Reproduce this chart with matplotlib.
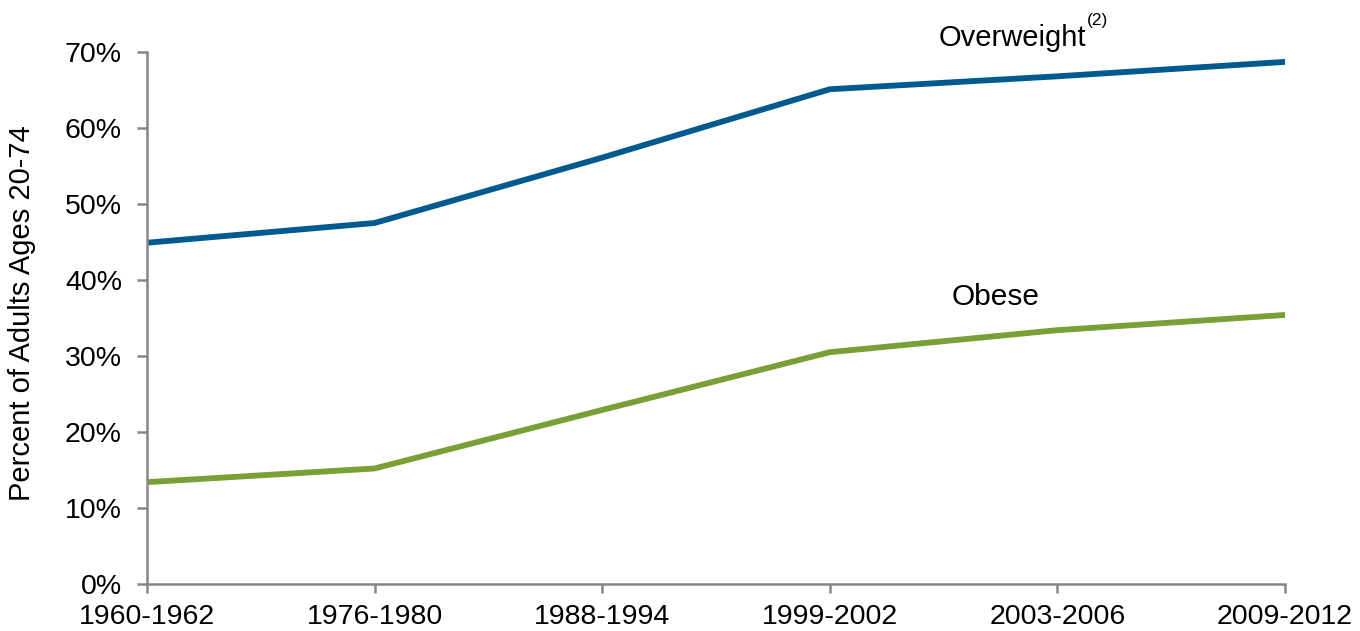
import matplotlib
matplotlib.use("Agg")
import matplotlib.pyplot as plt

periods = ["1960-1962", "1976-1980", "1988-1994", "1999-2002", "2003-2006", "2009-2012"]
overweight = [44.9, 47.5, 56.1, 65.1, 66.8, 68.7]
obese = [13.4, 15.2, 22.9, 30.5, 33.4, 35.4]
yticks = [0, 10, 20, 30, 40, 50, 60, 70]
ytick_labels = [f"{v}%" for v in yticks]

plt.rcParams['font.family'] = ['Liberation Sans', 'DejaVu Sans']

fig = plt.figure(figsize=(13.6, 6.31), dpi=100)
ax = fig.add_axes([147/1360, (631-584)/631, (1285-147)/1360, (584-52)/631])

x = list(range(len(periods)))
ax.plot(x, overweight, color="#005A8F", lw=4.2, solid_capstyle="round")
ax.plot(x, obese, color="#78A036", lw=4.2, solid_capstyle="round")

ax.set_xlim(0, len(periods) - 1)
ax.set_ylim(0, 70)
ax.set_xticks(x)
ax.set_xticklabels(periods, fontsize=20.5)
ax.set_yticks(yticks)
ax.set_yticklabels(ytick_labels, fontsize=20.5)
ax.set_ylabel("Percent of Adults Ages 20-74", fontsize=21, va="center")
ax.yaxis.set_label_coords((22-147)/1138, 0.51)

for s in ["top", "right"]:
    ax.spines[s].set_visible(False)
for s in ["left", "bottom"]:
    ax.spines[s].set_color("#868686")
    ax.spines[s].set_linewidth(1.8)
ax.tick_params(axis="both", color="#868686", width=1.8, direction="out")
ax.tick_params(axis="y", length=7, pad=11)
ax.tick_params(axis="x", length=6.5, pad=8)
for t in ax.spines.values():
    t.set_clip_on(False)

ax.annotate("Overweight", xy=(0, 0), xytext=(939/1360, (631-38)/631), textcoords="figure fraction",
            xycoords="figure fraction", fontsize=21, va="center", ha="left")
ax.annotate("(2)", xy=(0, 0), xytext=(1087/1360, (631-20)/631), textcoords="figure fraction",
            xycoords="figure fraction", fontsize=12.5, va="center", ha="left")
ax.annotate("Obese", xy=(0, 0), xytext=(996/1360, (631-297)/631), textcoords="figure fraction",
            xycoords="figure fraction", fontsize=21.5, va="center", ha="center")

fig.savefig("out.png", dpi=100)
